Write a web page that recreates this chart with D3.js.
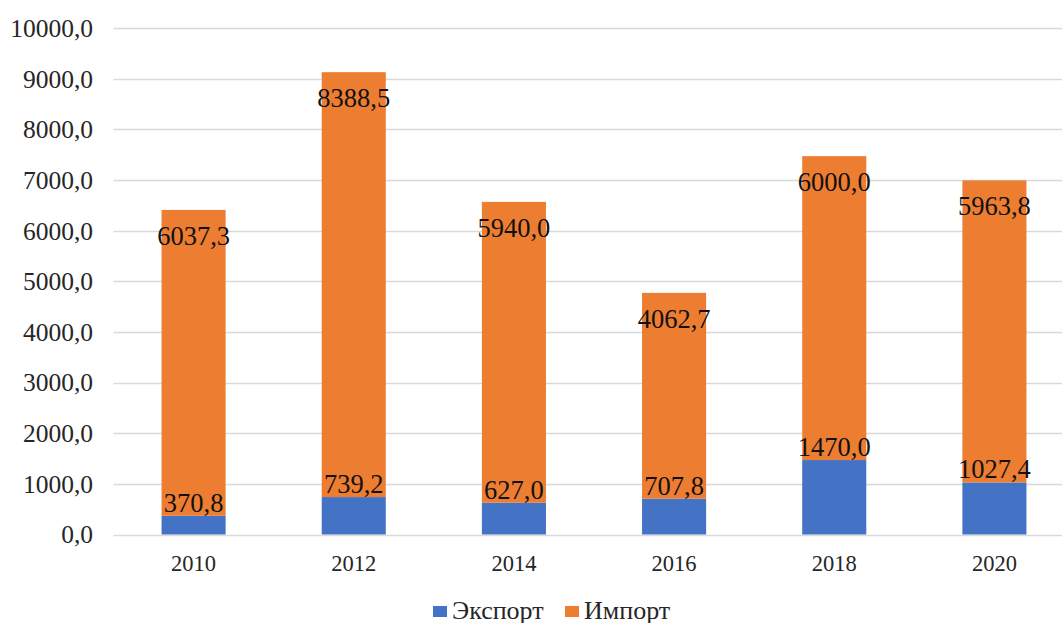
<!DOCTYPE html>
<html>
<head>
<meta charset="utf-8">
<script src="https://cdn.jsdelivr.net/npm/d3@7"></script>
<style>
  html, body { margin: 0; padding: 0; background: #fff; }
  svg { display: block; }
  svg text { font-family: "Liberation Serif", "Times New Roman", serif; }
</style>
</head>
<body>
<div id="chart"></div>
<script>
// chart data
var years = ["2010", "2012", "2014", "2016", "2018", "2020"];
var exportVals = [370.8, 739.2, 627.0, 707.8, 1470.0, 1027.4];
var importVals = [6037.3, 8388.5, 5940.0, 4062.7, 6000.0, 5963.8];
var yTicks = [0, 1000, 2000, 3000, 4000, 5000, 6000, 7000, 8000, 9000, 10000];
var seriesNames = ["Экспорт", "Импорт"];
var seriesColors = ["#4472C4", "#ED7D31"];

(function () {
  var W = 1062, H = 623;
  var m = { top: 28, left: 113.5, bottom: 534.5, right: 1074.5 };

  var svg = d3.select("#chart").append("svg").attr("width", W).attr("height", H);

  var x = d3.scaleBand().domain(years).range([m.left, m.right]).paddingInner(0.6).paddingOuter(0.3);
  var y = d3.scaleLinear().domain([0, 10000]).range([m.bottom, m.top]);

  // comma decimal, one digit: "9000,0"
  var fmt = function (d) { return d3.format(".1f")(d).replace(".", ","); };

  // gridlines
  svg.append("g").selectAll("line").data(yTicks).enter().append("line")
    .attr("x1", m.left).attr("x2", W + 20)
    .attr("y1", function (d) { return Math.round(y(d)) + 0.5; })
    .attr("y2", function (d) { return Math.round(y(d)) + 0.5; })
    .attr("stroke", "#d9d9d9").attr("stroke-width", 1.3);

  // y tick labels
  svg.append("g").selectAll("text").data(yTicks).enter().append("text")
    .attr("x", 93).attr("y", function (d) { return y(d); })
    .attr("dy", "0.35em").attr("text-anchor", "end")
    .attr("font-size", "25.5px").attr("fill", "#262626")
    .text(fmt);

  // stacked data
  var rows = years.map(function (yr, i) { return { year: yr, exp: exportVals[i], imp: importVals[i] }; });
  var stack = d3.stack().keys(["exp", "imp"])(rows);

  svg.append("g").selectAll("g").data(stack).enter().append("g")
    .attr("fill", function (d, i) { return seriesColors[i]; })
    .selectAll("rect").data(function (d) { return d; }).enter().append("rect")
    .attr("x", function (d) { return x(d.data.year); })
    .attr("width", x.bandwidth())
    .attr("y", function (d) { return y(d[1]); })
    .attr("height", function (d) { return y(d[0]) - y(d[1]); });

  // data labels: import inside the top of its segment, export just above its segment
  var lbl = svg.append("g").attr("font-size", "26.5px").attr("fill", "#111").attr("text-anchor", "middle");
  rows.forEach(function (r) {
    var cx = x(r.year) + x.bandwidth() / 2;
    lbl.append("text").attr("x", cx).attr("y", y(r.exp + r.imp) + 35).text(fmt(r.imp));
    lbl.append("text").attr("x", cx).attr("y", y(r.exp) - 4).text(fmt(r.exp));
  });

  // x labels
  svg.append("g").selectAll("text").data(years).enter().append("text")
    .attr("x", function (d) { return x(d) + x.bandwidth() / 2; })
    .attr("y", 571).attr("text-anchor", "middle")
    .attr("font-size", "22.5px").attr("fill", "#262626")
    .text(function (d) { return d; });

  // legend (the reference crops it at the bottom edge)
  var lx = [433, 565];
  seriesNames.forEach(function (name, i) {
    svg.append("rect").attr("x", lx[i]).attr("y", 606).attr("width", 14).attr("height", 11).attr("fill", seriesColors[i]);
    svg.append("text").attr("x", lx[i] + 19).attr("y", 619)
      .attr("font-size", "26px").attr("fill", "#262626").text(name);
  });
})();
</script>
</body>
</html>
